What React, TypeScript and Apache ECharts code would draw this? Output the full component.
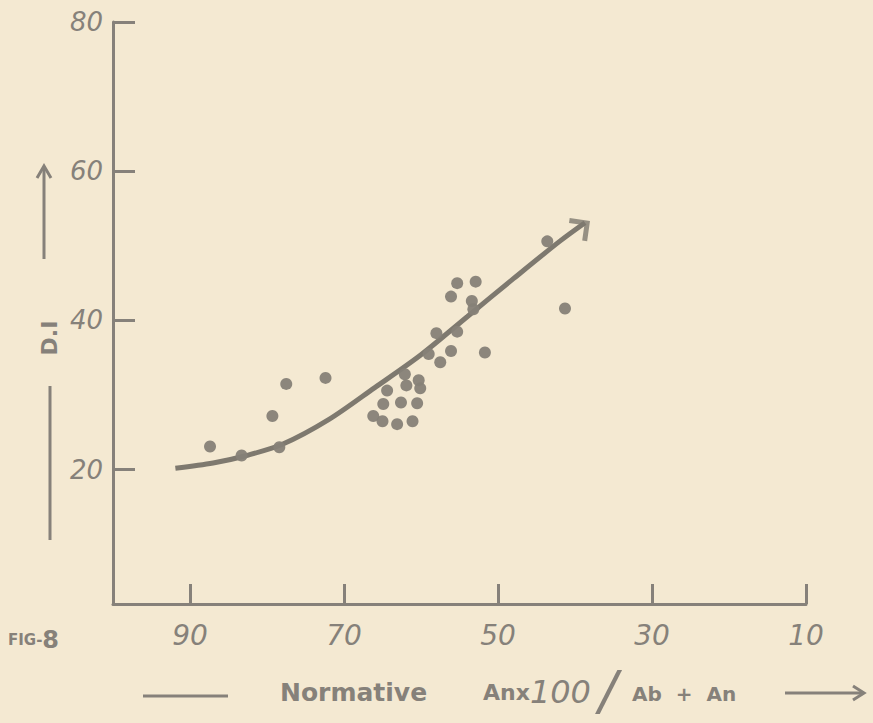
import React, { useEffect, useRef } from "react";
import * as echarts from "echarts";

// Tick labels
const xTicks = [90, 70, 50, 30, 10];
const yTicks = [20, 40, 60, 80];

// Observed points (Normative An x100 / Ab + An  vs  D.I)
const dotX = [87.4, 83.3, 78.4, 79.3, 77.5, 72.4, 66.2, 65.0, 63.1, 61.1, 64.9, 64.4, 62.6, 60.5, 62.1, 61.9, 60.1, 60.3, 59.0, 58.0, 57.5, 56.1, 55.3, 56.1, 55.3, 52.9, 53.4, 53.2, 51.7, 43.6, 41.3];
const dotY = [23.1, 21.9, 23.0, 27.2, 31.5, 32.3, 27.2, 26.5, 26.1, 26.5, 28.8, 30.6, 29.0, 28.9, 32.8, 31.3, 30.9, 32.0, 35.5, 38.3, 34.4, 35.9, 38.5, 43.2, 45.0, 45.2, 42.6, 41.5, 35.7, 50.6, 41.6];

// Hand-drawn trend curve
const curveX = [91.9, 87, 83, 78, 72, 66, 60, 54, 48, 42, 38.7];
const curveY = [20.2, 20.9, 21.8, 23.4, 26.7, 31.0, 35.4, 40.5, 45.6, 50.6, 53.1];

const INK = "#86817a";
const PAPER = "#f4e9d2";

export default function App() {
  const ref = useRef<HTMLDivElement>(null);

  useEffect(() => {
    document.body.style.margin = "0";
    document.body.style.background = PAPER;
    if (!ref.current) return;
    const chart = echarts.init(ref.current, undefined, { renderer: "svg" });

    const dots = dotX.map((x, i) => [x, dotY[i]]);
    const curve = curveX.map((x, i) => [x, curveY[i]]);
    const tip = curve[curve.length - 1];

    chart.setOption({
      animation: false,
      backgroundColor: PAPER,
      grid: { left: 113, right: 67, top: 22, bottom: 119, outerBoundsMode: "none" },
      xAxis: {
        type: "value",
        inverse: true,
        min: 10,
        max: 100,
        axisLine: { show: true, lineStyle: { color: INK, width: 3 } },
        axisTick: { show: true, inside: true, length: 20, customValues: xTicks, lineStyle: { color: INK, width: 3 } },
        axisLabel: {
          customValues: xTicks,
          margin: 17,
          color: INK,
          fontSize: 28,
          fontStyle: "italic",
          fontFamily: "DejaVu Sans",
        },
        splitLine: { show: false },
      },
      yAxis: {
        type: "value",
        min: 2,
        max: 80,
        axisLine: { show: true, lineStyle: { color: INK, width: 3 } },
        axisTick: { show: true, inside: true, length: 22, customValues: yTicks, lineStyle: { color: INK, width: 3 } },
        axisLabel: {
          customValues: yTicks,
          margin: 10,
          color: INK,
          fontSize: 26,
          fontStyle: "italic",
          fontFamily: "DejaVu Sans",
        },
        splitLine: { show: false },
      },
      series: [
        {
          type: "line",
          data: curve,
          smooth: 0.3,
          showSymbol: false,
          symbol: "none",
          lineStyle: { color: "#7e796f", width: 5 },
          z: 2,
        },
        {
          type: "scatter",
          data: [tip],
          symbol: "path://M0,0 L10,0 L10,10",
          symbolSize: 18,
          symbolOffset: [-8, 8],
          symbolRotate: -8,
          itemStyle: { color: "rgba(0,0,0,0)", borderColor: "#7e796f", borderWidth: 5 },
          z: 3,
        },
        {
          type: "scatter",
          data: dots,
          symbol: "circle",
          symbolSize: 12,
          itemStyle: { color: "#868177", opacity: 0.95 },
          z: 4,
        },
      ],
      graphic: [
        // Y-axis name: —— D.I ——↑
        { type: "line", shape: { x1: 50, y1: 540, x2: 50, y2: 386 }, style: { stroke: INK, lineWidth: 3 } },
        {
          type: "text",
          x: 49,
          y: 338,
          rotation: Math.PI / 2,
          style: {
            text: "D.I",
            fill: INK,
            font: "bold 22px 'DejaVu Sans'",
            align: "center",
            verticalAlign: "middle",
          },
        },
        { type: "line", shape: { x1: 44, y1: 259, x2: 44, y2: 168 }, style: { stroke: INK, lineWidth: 3 } },
        { type: "polyline", shape: { points: [[37, 178], [44, 166], [51, 178]] }, style: { stroke: INK, lineWidth: 3, fill: "none" } },
        // Figure tag
        {
          type: "text",
          x: 8,
          y: 640,
          style: {
            text: "{a|FIG-}{b|8}",
            fill: INK,
            verticalAlign: "middle",
            rich: {
              a: { fontSize: 15, fontWeight: "bold", fill: INK, fontFamily: "DejaVu Sans" },
              b: { fontSize: 24, fontWeight: "bold", fill: INK, fontFamily: "DejaVu Sans" },
            },
          },
        },
        // X-axis name: —— Normative Anx100/ Ab + An ——→
        { type: "line", shape: { x1: 143, y1: 696, x2: 228, y2: 696 }, style: { stroke: INK, lineWidth: 3 } },
        {
          type: "text",
          x: 280,
          y: 692,
          style: { text: "Normative", fill: INK, font: "bold 25px 'DejaVu Sans'", verticalAlign: "middle" },
        },
        {
          type: "text",
          x: 483,
          y: 692,
          style: {
            text: "{s|Anx}{l|100}",
            fill: INK,
            verticalAlign: "middle",
            rich: {
              s: { fontSize: 22, fontWeight: "bold", fill: INK, fontFamily: "DejaVu Sans" },
              l: { fontSize: 32, fontStyle: "italic", fill: INK, fontFamily: "DejaVu Sans" },
            },
          },
        },
        {
          type: "text",
          x: 608,
          y: 690,
          style: { text: "/", fill: INK, font: "italic 54px 'DejaVu Sans'", align: "center", verticalAlign: "middle" },
        },
        {
          type: "text",
          x: 632,
          y: 694,
          style: { text: "Ab  +  An", fill: INK, font: "bold 20px 'DejaVu Sans'", verticalAlign: "middle" },
        },
        { type: "line", shape: { x1: 785, y1: 693, x2: 862, y2: 693 }, style: { stroke: INK, lineWidth: 3 } },
        { type: "polyline", shape: { points: [[853, 686], [864, 693], [853, 700]] }, style: { stroke: INK, lineWidth: 3, fill: "none" } },
      ],
    });

    return () => chart.dispose();
  }, []);

  return <div ref={ref} style={{ width: 873, height: 723 }} />;
}
